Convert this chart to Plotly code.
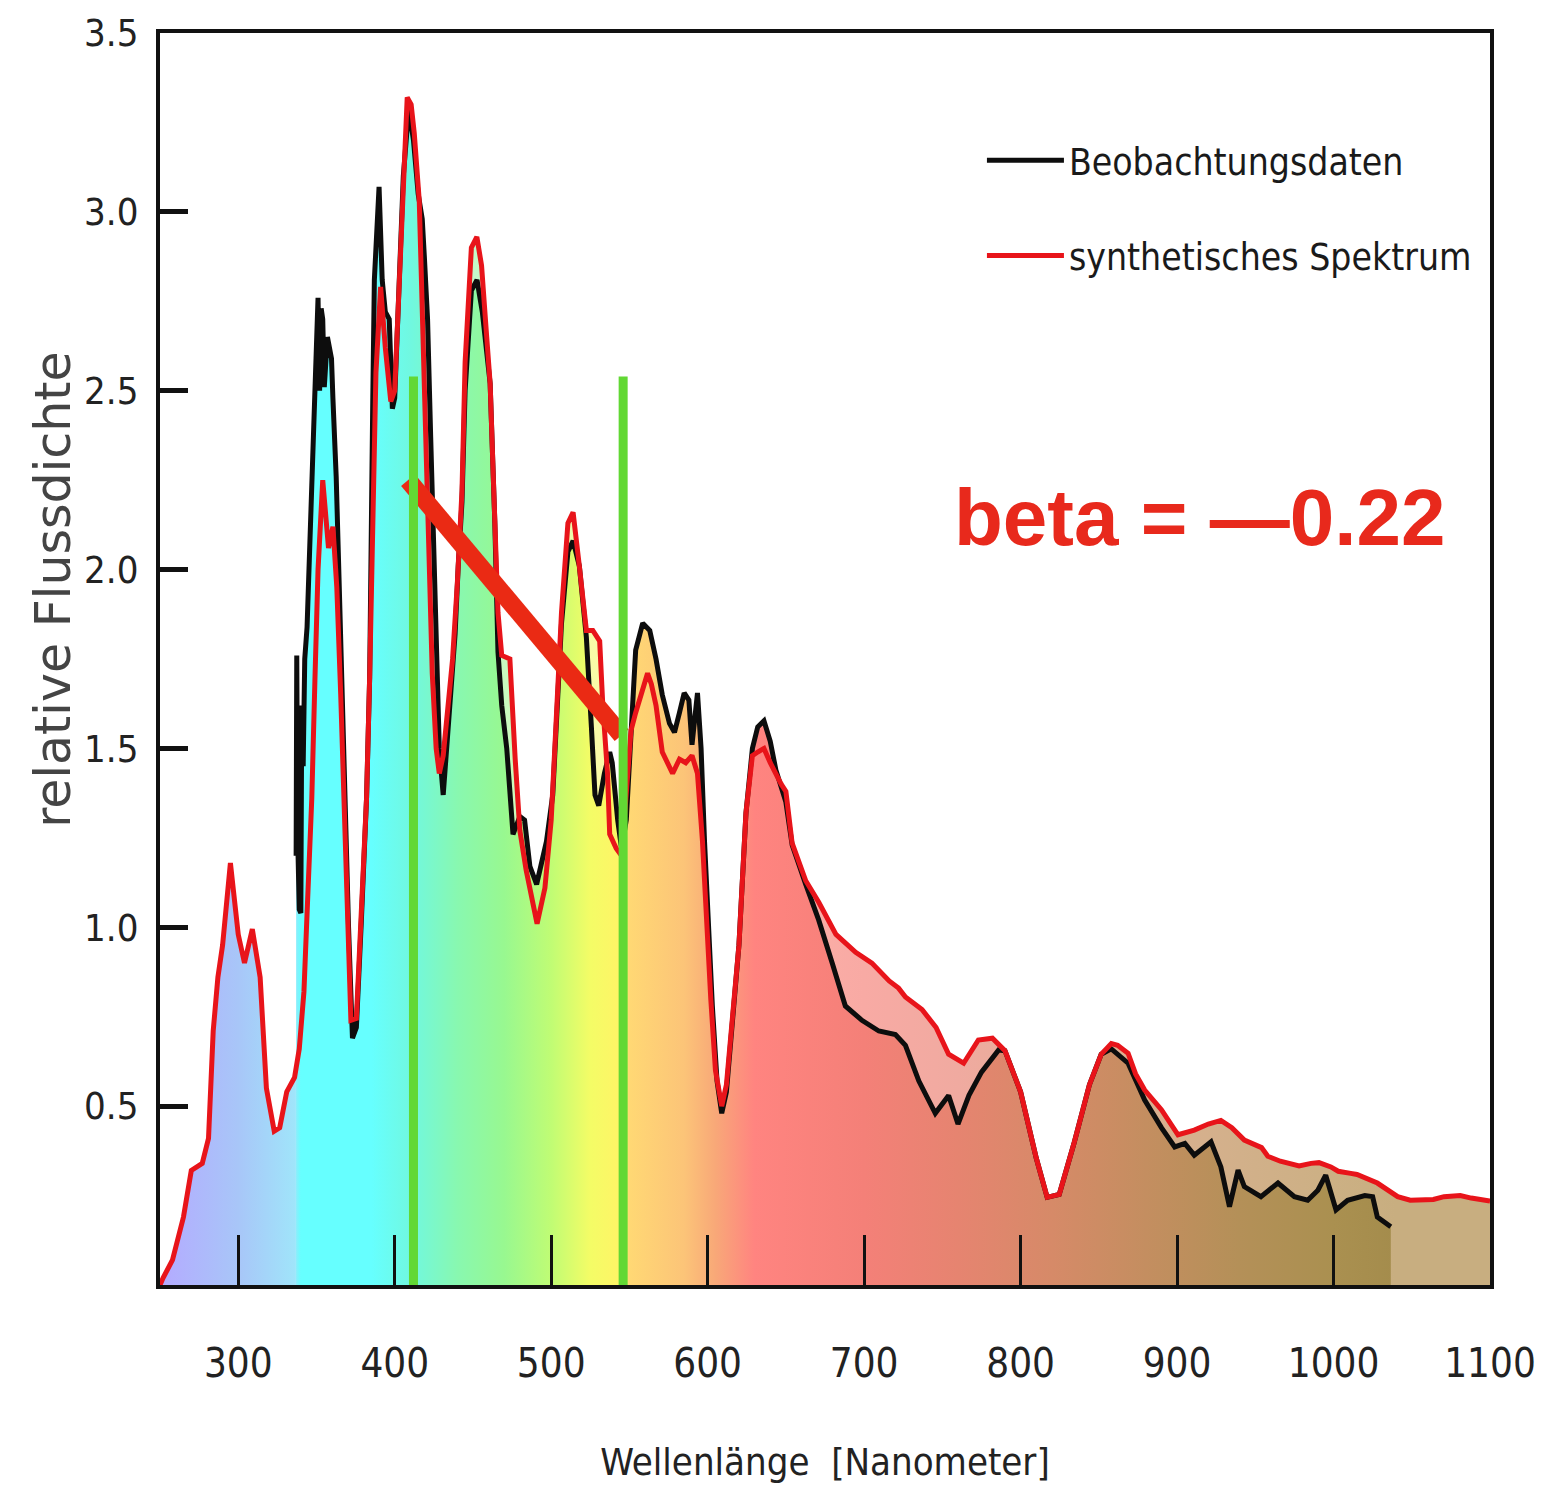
import plotly.graph_objects as go

# ---------------- data ----------------
synth_wl = [250, 252, 258, 265, 270, 277, 281, 284, 287, 290, 295, 300, 304, 309, 314, 318, 323, 326.5, 331, 336,
            339, 342, 344, 347, 349, 351, 354, 357.7, 360.5, 363, 365.5, 367.5, 370, 372, 375.5, 378.7, 382, 384,
            386, 388, 391, 394, 397.5, 400, 403, 405.5, 408, 410.5, 412.5, 415.7, 417.6, 420, 422, 424, 426.5,
            428.5, 431, 434, 437, 440, 441.8, 443, 445, 449, 452.5, 455.5, 458.8, 461, 463, 466, 468.4, 473.6,
            477, 480, 484, 487, 491, 496, 500, 503, 506.6, 510.7, 514, 518, 522.5, 526.6, 531, 533, 536, 537.4,
            541.6, 545, 548, 551, 554, 558, 561.6, 564, 567, 571, 577.6, 582, 586, 590, 593.5, 596.7, 599, 602,
            605, 609, 612, 616, 620, 624.5, 628.6, 632, 636, 640, 643.6, 647, 650, 654, 662.7, 671, 682, 694.6,
            705, 716, 722, 726.4, 737, 746, 754, 763.6, 773, 782, 790, 800, 810, 817, 824.7, 834, 844, 851.5,
            858, 862, 868.7, 873.5, 879.3, 890, 900.6, 911, 920, 928, 935, 943, 954, 958, 966, 972.7, 978,
            985.6, 990.7, 998.3, 1003, 1011, 1015, 1028, 1041, 1049, 1063.8, 1070.6, 1081, 1088, 1096, 1100]
synth_flux = [0.0, 0.02, 0.07, 0.19, 0.32, 0.34, 0.41, 0.71, 0.86, 0.95, 1.18, 0.98, 0.90, 0.995, 0.86, 0.55, 0.43,
              0.44, 0.54, 0.58, 0.66, 0.82, 1.04, 1.36, 1.69, 2.0, 2.25, 2.06, 2.12, 1.95, 1.65, 1.36, 1.04, 0.74,
              0.745, 1.04, 1.36, 1.7, 2.21, 2.55, 2.79, 2.62, 2.47, 2.50, 2.81, 3.1, 3.32, 3.30, 3.22, 3.03, 2.70,
              2.37, 2.04, 1.71, 1.50, 1.43, 1.48, 1.62, 1.75, 1.96, 2.13, 2.22, 2.58, 2.90, 2.93, 2.85, 2.65, 2.52,
              2.26, 1.88, 1.76, 1.75, 1.47, 1.27, 1.16, 1.10, 1.01, 1.11, 1.30, 1.56, 1.88, 2.13, 2.16, 2.01, 1.83,
              1.83, 1.80, 1.62, 1.43, 1.26, 1.22, 1.20, 1.40, 1.55, 1.60, 1.66, 1.71, 1.68, 1.62, 1.49, 1.43, 1.47,
              1.46, 1.48, 1.43, 1.24, 1.03, 0.80, 0.60, 0.50, 0.56, 0.75, 0.95, 1.32, 1.48, 1.49, 1.50, 1.46,
              1.425, 1.40, 1.38, 1.235, 1.13, 1.07, 0.98, 0.93, 0.90, 0.85, 0.83, 0.805, 0.77, 0.72, 0.645, 0.62,
              0.685, 0.69, 0.655, 0.54, 0.355, 0.245, 0.253, 0.394, 0.56, 0.645, 0.675, 0.67, 0.648, 0.59, 0.545,
              0.49, 0.42, 0.433, 0.45, 0.46, 0.44, 0.405, 0.384, 0.36, 0.346, 0.34, 0.333, 0.34, 0.342, 0.33,
              0.318, 0.312, 0.309, 0.285, 0.247, 0.237, 0.239, 0.247, 0.25, 0.243, 0.237, 0.235]

obs_wl = [337, 337.4, 338, 339, 340, 340.6, 341.5, 342.5, 344, 346, 347.5, 349, 350, 351, 352, 353, 354, 355, 357,
          359.6, 360.5, 362.6, 364.7, 366.5, 368.5, 370.5, 373, 375.5, 378.7, 382, 384, 385, 386, 387, 388.5,
          390, 392, 394, 396.5, 398.5, 400, 403, 405.5, 409, 412, 415, 417.6, 419, 421, 423, 425, 426.5, 428.5,
          431, 434, 438.6, 440.6, 443, 445, 449, 452.6, 456, 459, 461, 464, 466, 468.4, 471.6, 475.6, 480, 483,
          486.4, 490.7, 494, 497, 501, 503, 506.6, 510.7, 514, 518, 522.5, 525.7, 528, 530.4, 534, 537.4, 539,
          542.5, 545, 548, 551, 554, 558.5, 563, 567, 571, 575.6, 578.8, 582, 585, 588, 590, 593.5, 595.8, 598,
          600, 603, 606, 609, 612, 616, 620, 624.5, 628.6, 632, 636, 640, 643.6, 650, 654, 662.7, 671, 679.6,
          688, 698.6, 709.4, 720, 726.4, 735, 745.5, 754, 760, 767, 775, 786, 790, 800, 810, 817, 824.7, 834,
          844, 851.5, 858, 868.7, 879.3, 890, 898.5, 905, 911, 921.7, 928, 933.5, 939, 943, 953.6, 964.5, 975,
          983.5, 990, 995, 1001.6, 1009, 1020, 1025, 1028, 1036.6]
obs_flux = [1.20, 1.76, 1.25, 1.05, 1.04, 1.62, 1.45, 1.75, 1.84, 2.1, 2.29, 2.49, 2.58, 2.76, 2.5, 2.73, 2.70,
            2.51, 2.65, 2.59, 2.48, 2.26, 1.93, 1.6, 1.3, 1.0, 0.69, 0.72, 1.02, 1.36, 1.7, 2.21, 2.48, 2.81, 2.98,
            3.07, 2.81, 2.72, 2.70, 2.45, 2.48, 2.81, 3.1, 3.29, 3.2, 3.05, 2.98, 2.87, 2.70, 2.37, 2.04, 1.71,
            1.5, 1.37, 1.54, 1.82, 2.01, 2.19, 2.50, 2.78, 2.81, 2.72, 2.60, 2.52, 2.13, 1.77, 1.62, 1.50, 1.26,
            1.31, 1.30, 1.17, 1.12, 1.19, 1.24, 1.37, 1.56, 1.85, 2.05, 2.08, 2.01, 1.81, 1.56, 1.37, 1.34, 1.43,
            1.49, 1.46, 1.30, 1.22, 1.30, 1.56, 1.775, 1.85, 1.83, 1.75, 1.65, 1.57, 1.545, 1.60, 1.655, 1.635,
            1.51, 1.655, 1.50, 1.24, 1.03, 0.78, 0.57, 0.48, 0.54, 0.75, 0.95, 1.32, 1.50, 1.56, 1.577, 1.52, 1.44,
            1.35, 1.23, 1.12, 1.02, 0.90, 0.78, 0.74, 0.71, 0.70, 0.67, 0.57, 0.48, 0.53, 0.45, 0.53, 0.595,
            0.657, 0.655, 0.54, 0.355, 0.245, 0.253, 0.394, 0.56, 0.645, 0.66, 0.62, 0.517, 0.44, 0.386, 0.396,
            0.363, 0.40, 0.33, 0.219, 0.321, 0.275, 0.247, 0.285, 0.247, 0.237, 0.265, 0.307, 0.21, 0.237, 0.25,
            0.247, 0.19, 0.163]

# spectral colour stops (wavelength -> colour) for the area fills
grad_wl = [250, 300, 336, 340, 385, 410, 440, 470, 500, 525, 545, 550, 585, 605, 630, 700, 760, 820, 880, 940, 1000, 1040, 1100]
fill_under_obs = ["#b0a8ff", "#a8c6f8", "#98e6fa", "#66ffff", "#66ffff", "#70f8e0", "#88f8b0", "#98f890",
                  "#c0fc74", "#f4fc66", "#fff466", "#ffd874", "#fcc478", "#f8a878", "#ff8480", "#f48078",
                  "#e68470", "#d68a68", "#c48e60", "#b49058", "#aa9050", "#a48c4c", "#a48c4c"]
fill_under_synth = ["#b4aaff", "#a8c6f8", "#a0e4fa", "#a8ffff", "#a8ffff", "#b0fbe8", "#c0fad0", "#c8fac0",
                    "#e0fcb0", "#f8fca8", "#fff8a8", "#ffe4a8", "#fcd8a8", "#fcc4a8", "#ffb0a8", "#f8aaa4",
                    "#f0aaa0", "#e4ae96", "#dab090", "#d2b08a", "#ccb084", "#c8ae80", "#c8ae80"]

x_ticks = [300, 400, 500, 600, 700, 800, 900, 1000, 1100]
y_ticks = [0.5, 1.0, 1.5, 2.0, 2.5, 3.0, 3.5]

band_edges = [412, 546]          # green markers (nm)
band_top = 2.54
slope_wl = [408.5, 545]          # beta slope line
slope_flux = [2.25, 1.537]
beta_text = "beta = \u20140.22"

WL_MIN, WL_MAX = 250, 1100


def scale(colors):
    return [[(w - WL_MIN) / (WL_MAX - WL_MIN), c] for w, c in zip(grad_wl, colors)]


NARROW = "Liberation Sans Narrow, DejaVu Sans Condensed, Arial Narrow, Liberation Sans, sans-serif"

fig = go.Figure()

fig.add_trace(go.Scatter(x=synth_wl, y=synth_flux, mode="lines", fill="tozeroy",
                         line=dict(width=0, color="rgba(0,0,0,0)"),
                         fillgradient=dict(type="horizontal", colorscale=scale(fill_under_synth),
                                           start=WL_MIN, stop=WL_MAX),
                         showlegend=False, hoverinfo="skip"))
fig.add_trace(go.Scatter(x=obs_wl, y=obs_flux, mode="lines", fill="tozeroy",
                         line=dict(width=0, color="rgba(0,0,0,0)"),
                         fillgradient=dict(type="horizontal", colorscale=scale(fill_under_obs),
                                           start=WL_MIN, stop=WL_MAX),
                         showlegend=False, hoverinfo="skip"))
fig.add_trace(go.Scatter(x=obs_wl, y=obs_flux, mode="lines", name="Beobachtungsdaten",
                         line=dict(color="#0d0d0d", width=5), legend="legend"))
fig.add_trace(go.Scatter(x=synth_wl, y=synth_flux, mode="lines", name="synthetisches Spektrum",
                         line=dict(color="#e8141a", width=5), legend="legend2"))

# beta slope line
fig.add_trace(go.Scatter(x=slope_wl, y=slope_flux, mode="lines",
                         line=dict(color="#ea2a14", width=18), showlegend=False, hoverinfo="skip"))
# green band markers
for wl in band_edges:
    fig.add_trace(go.Scatter(x=[wl, wl], y=[0, band_top], mode="lines",
                             line=dict(color="#62d834", width=9), showlegend=False, hoverinfo="skip"))

fig.add_annotation(x=914.6, y=2.146, xref="x", yref="y", text="<b>%s</b>" % beta_text,
                   showarrow=False, xanchor="center", yanchor="middle",
                   font=dict(family="Liberation Sans, Arial, sans-serif", size=80, color="#e8291c"))

# y-axis title as rotated annotation (centred like the reference)
fig.add_annotation(x=-0.08, y=0.555, xref="paper", yref="paper", text="relative Flussdichte",
                   showarrow=False, textangle=-90, xanchor="center", yanchor="middle",
                   font=dict(family="DejaVu Sans, Verdana, sans-serif", size=49, color="#444"))

leg_common = dict(bgcolor="rgba(0,0,0,0)", borderwidth=0, itemwidth=77,
                  font=dict(family=NARROW, size=37, color="#1a1a1a"),
                  xanchor="left", yanchor="middle", tracegroupgap=0)
fig.update_layout(
    width=1541, height=1507,
    margin=dict(l=160, r=51, t=33, b=222, autoexpand=False),
    paper_bgcolor="white", plot_bgcolor="white",
    legend=dict(x=0.618, y=0.898, **leg_common),
    legend2=dict(x=0.618, y=0.822, **leg_common),
    xaxis=dict(range=[WL_MIN, WL_MAX], tickvals=x_ticks, ticks="inside", ticklen=50, tickwidth=3,
               tickcolor="#111", showline=True, linecolor="#111", linewidth=4, mirror=True,
               showgrid=False, zeroline=False, ticklabelstandoff=40,
               tickfont=dict(family=NARROW, size=40, color="#222"),
               title=dict(text="Wellenl\u00e4nge  [Nanometer]", standoff=64,
                          font=dict(family=NARROW, size=38, color="#222"))),
    yaxis=dict(range=[0, 3.5], tickvals=y_ticks, tickformat=".1f", ticks="inside", ticklen=28, tickwidth=5,
               tickcolor="#111", showline=True, linecolor="#111", linewidth=4, mirror=True,
               showgrid=False, zeroline=False, ticklabelstandoff=10,
               tickfont=dict(family=NARROW, size=38, color="#222")),
)

fig.write_html("out.html")
